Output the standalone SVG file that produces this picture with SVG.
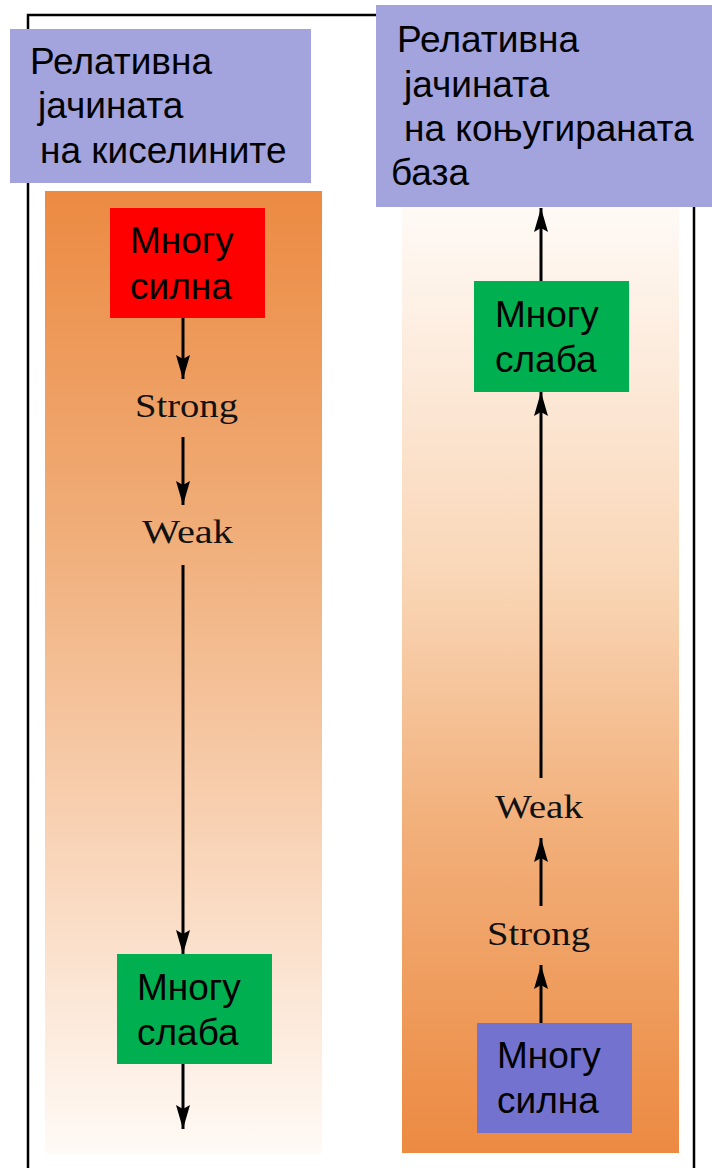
<svg xmlns="http://www.w3.org/2000/svg" width="712" height="1168" viewBox="0 0 712 1168">
<defs>
<linearGradient id="gl" x1="0" y1="0" x2="0" y2="1">
<stop offset="0" stop-color="#ec8a42"/>
<stop offset="0.35" stop-color="#f0ad78"/>
<stop offset="0.7" stop-color="#f9d6bb"/>
<stop offset="1" stop-color="#fffaf6"/>
</linearGradient>
<linearGradient id="gr" x1="0" y1="0" x2="0" y2="1">
<stop offset="0" stop-color="#fffaf6"/>
<stop offset="0.4" stop-color="#f9d5b5"/>
<stop offset="0.65" stop-color="#f2b07b"/>
<stop offset="1" stop-color="#ec8a42"/>
</linearGradient>
<marker id="a" viewBox="0 0 24 14" refX="24" refY="7" markerWidth="24" markerHeight="14" markerUnits="userSpaceOnUse" orient="auto">
<path d="M0,0 L24,7 L0,14 L4,7 Z" fill="#000"/>
</marker>
</defs>
<style>
.cy{font-family:"Liberation Sans",Arial,sans-serif;font-size:37px;fill:#000}
.sr{font-family:"Liberation Serif","Times New Roman",serif;font-size:34px;fill:#111}
.ln{stroke:#000;stroke-width:3;fill:none;marker-end:url(#a)}
</style>
<rect x="28" y="15" width="666" height="1170" fill="none" stroke="#000" stroke-width="2.5"/>
<rect id="col-left" x="45" y="191" width="277" height="962" fill="url(#gl)"/>
<rect id="col-right" x="402" y="207" width="277" height="946" fill="url(#gr)"/>
<g id="title-left">
<rect x="10" y="29" width="301" height="154" fill="#a3a3de"/>
<text class="cy" x="30" y="74">Релативна</text>
<text class="cy" x="38" y="118"> јачината</text>
<text class="cy" x="40" y="163">на киселините</text>
</g>
<g id="title-right">
<rect x="376" y="5" width="336" height="202" fill="#a3a3de"/>
<text class="cy" x="397" y="52">Релативна</text>
<text class="cy" x="404" y="97">јачината</text>
<text class="cy" x="404" y="141">на коњугираната</text>
<text class="cy" x="391" y="185">база</text>
</g>
<g id="connectors">
<line class="ln" x1="183" y1="318" x2="183" y2="379"/>
<line class="ln" x1="183" y1="437" x2="183" y2="505"/>
<line class="ln" x1="183" y1="565" x2="183" y2="954"/>
<line class="ln" x1="183" y1="1064" x2="183" y2="1129"/>
<line class="ln" x1="541" y1="1023" x2="541" y2="965"/>
<line class="ln" x1="541" y1="906" x2="541" y2="838"/>
<line class="ln" x1="541" y1="778" x2="541" y2="392"/>
<line class="ln" x1="541" y1="281" x2="541" y2="208"/>
</g>
<g id="left-very-strong">
<rect x="110" y="208" width="155" height="110" fill="#ff0000"/>
<text class="cy" x="130" y="253">Многу</text>
<text class="cy" x="130" y="299">силна</text>
</g>
<g id="left-strong"><text class="sr" x="135" y="417" textLength="103" lengthAdjust="spacingAndGlyphs">Strong</text></g>
<g id="left-weak"><text class="sr" x="142" y="543" textLength="91" lengthAdjust="spacingAndGlyphs">Weak</text></g>
<g id="left-very-weak">
<rect x="117" y="954" width="155" height="110" fill="#00b050"/>
<text class="cy" x="137" y="1000">Многу</text>
<text class="cy" x="137" y="1045">слаба</text>
</g>
<g id="right-very-weak">
<rect x="474" y="281" width="155" height="111" fill="#00b050"/>
<text class="cy" x="495" y="327">Многу</text>
<text class="cy" x="495" y="372">слаба</text>
</g>
<g id="right-weak"><text class="sr" x="495" y="818" textLength="88" lengthAdjust="spacingAndGlyphs">Weak</text></g>
<g id="right-strong"><text class="sr" x="487" y="945" textLength="103" lengthAdjust="spacingAndGlyphs">Strong</text></g>
<g id="right-very-strong">
<rect x="477" y="1023" width="155" height="110" fill="#7373cf"/>
<text class="cy" x="497" y="1068">Многу</text>
<text class="cy" x="497" y="1113">силна</text>
</g>
</svg>
